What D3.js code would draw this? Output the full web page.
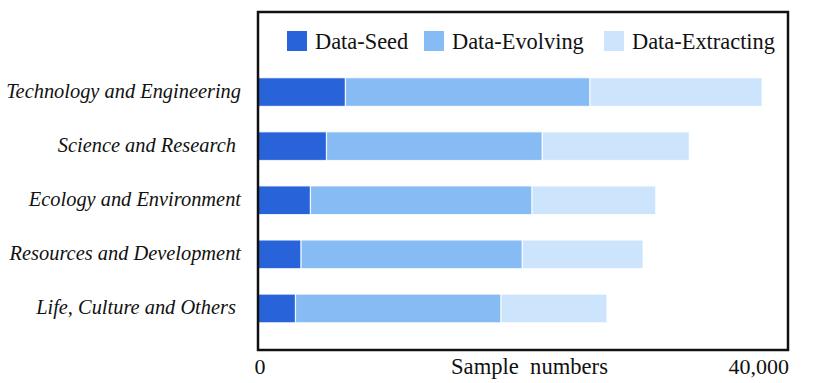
<!DOCTYPE html>
<html lang="en">
<head>
    <meta charset="UTF-8">
    <title>Sample numbers by domain</title>
    <script src="https://d3js.org/d3.v7.min.js"></script>
    <style>
        body { margin: 0; background: #fff; }
        text { font-family: "Liberation Serif", "Times New Roman", serif; fill: #111; white-space: pre; }
    </style>
</head>
<body>
    <script>
        const width = 830;
        const height = 383;

        const categories = [
            "Technology and Engineering",
            "Science and Research ",
            "Ecology and Environment",
            "Resources and Development",
            "Life, Culture and Others "
        ];
        const seriesNames = ["Data-Seed", "Data-Evolving", "Data-Extracting"];
        const seedValues = [6600, 5170, 3960, 3250, 2830];
        const evolvingValues = [18450, 16290, 16720, 16700, 15510];
        const extractingValues = [13000, 11090, 9340, 9110, 8000];
        const colors = ["#2963d9", "#86bbf4", "#cce5fd"];
        const tickValues = [0, 40000];
        const tickLabels = ["0", "40,000"];

        const table = categories.map((c, i) => ({
            category: c,
            "Data-Seed": seedValues[i],
            "Data-Evolving": evolvingValues[i],
            "Data-Extracting": extractingValues[i]
        }));
        const stacked = d3.stack().keys(seriesNames)(table);

        const box = {left: 258, right: 788, top: 12, bottom: 350};

        const x = d3.scaleLinear()
            .domain([0, 40000])
            .range([box.left, box.right]);

        const y = d3.scaleBand()
            .domain(categories)
            .range([65, 335.5])
            .paddingInner(0.47)
            .paddingOuter(0.235);

        const svg = d3.select("body").append("svg")
            .attr("width", width)
            .attr("height", height);

        // bars
        svg.append("g")
            .selectAll("g")
            .data(stacked)
            .join("g")
            .attr("fill", (d, i) => colors[i])
            .selectAll("rect")
            .data(d => d)
            .join("rect")
            .attr("x", d => x(d[0]))
            .attr("y", d => y(d.data.category))
            .attr("width", d => x(d[1]) - x(d[0]))
            .attr("height", y.bandwidth())
            .attr("stroke", "#fff")
            .attr("stroke-opacity", 0.8)
            .attr("stroke-width", 1.2);

        // frame
        svg.append("rect")
            .attr("x", box.left)
            .attr("y", box.top)
            .attr("width", box.right - box.left)
            .attr("height", box.bottom - box.top)
            .attr("fill", "none")
            .attr("stroke", "#111")
            .attr("stroke-width", 2.5);

        // category labels
        svg.append("g")
            .selectAll("text")
            .data(categories)
            .join("text")
            .attr("x", 241)
            .attr("y", d => y(d) + y.bandwidth() / 2 + 5.5)
            .attr("text-anchor", "end")
            .attr("font-style", "italic")
            .attr("font-size", 20.4)
            .text(d => d);

        // x tick labels
        svg.append("g")
            .selectAll("text")
            .data(tickValues)
            .join("text")
            .attr("x", (d, i) => i === 0 ? x(d) + 2 : x(d) + 1)
            .attr("y", 374)
            .attr("text-anchor", (d, i) => i === 0 ? "middle" : "end")
            .attr("font-size", 22)
            .text((d, i) => tickLabels[i]);

        svg.append("text")
            .attr("x", 529.5)
            .attr("y", 374)
            .attr("text-anchor", "middle")
            .attr("font-size", 22.6)
            .text("Sample  numbers");

        // legend
        const legendX = [287, 424, 604];
        const legend = svg.append("g")
            .selectAll("g")
            .data(seriesNames)
            .join("g")
            .attr("transform", (d, i) => `translate(${legendX[i]},31)`);

        legend.append("rect")
            .attr("width", 20)
            .attr("height", 20)
            .attr("fill", (d, i) => colors[i]);

        legend.append("text")
            .attr("x", 28)
            .attr("y", 17.5)
            .attr("font-size", 22.4)
            .text(d => d);
    </script>
</body>
</html>
